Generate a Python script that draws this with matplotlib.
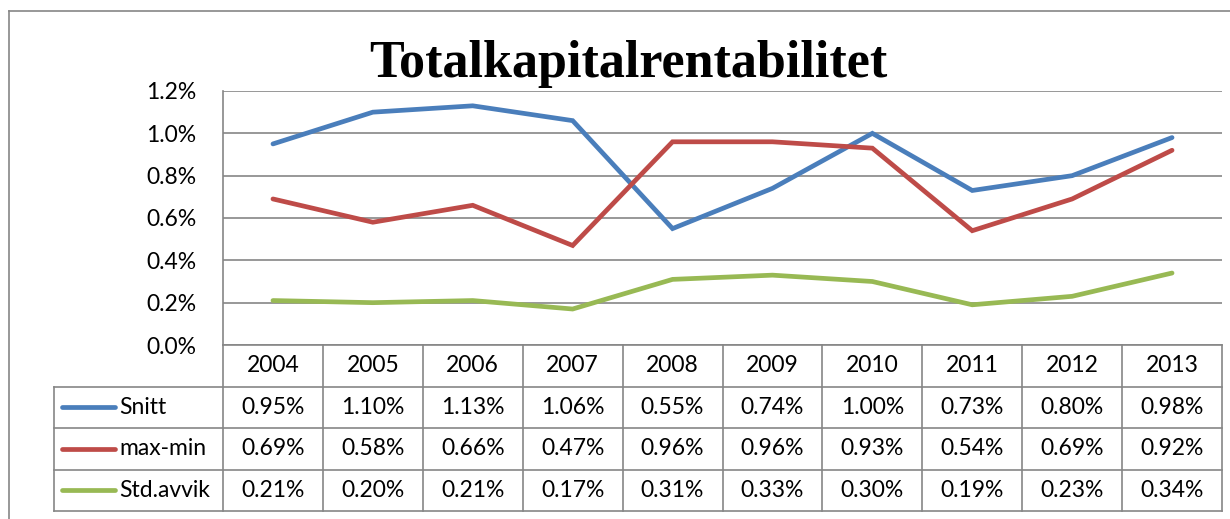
import matplotlib
matplotlib.use("Agg")
import matplotlib.pyplot as plt
from matplotlib.lines import Line2D
from matplotlib.ticker import FuncFormatter

years = ["2004", "2005", "2006", "2007", "2008", "2009", "2010", "2011", "2012", "2013"]
series_names = ["Snitt", "max-min", "Std.avvik"]
snitt = [0.95, 1.10, 1.13, 1.06, 0.55, 0.74, 1.00, 0.73, 0.80, 0.98]
maxmin = [0.69, 0.58, 0.66, 0.47, 0.96, 0.96, 0.93, 0.54, 0.69, 0.92]
stdavvik = [0.21, 0.20, 0.21, 0.17, 0.31, 0.33, 0.30, 0.19, 0.23, 0.34]
colors = ["#4A7EBB", "#BE4B48", "#98B954"]

W, H = 1230, 519
GRID = "#868686"
LBL = ["Lato", "DejaVu Sans"]
FS = 16.5

fig = plt.figure(figsize=(W / 100, H / 100), dpi=100)

def fbox(x0, y0, x1, y1):
    # pixel box (top-left origin) -> figure rect
    return [x0 / W, 1 - y1 / H, (x1 - x0) / W, (y1 - y0) / H]

# outer chart border
fig.add_artist(Line2D([9 / W, 9 / W], [0, 1 - 11 / H], color=GRID, lw=1.2))
fig.add_artist(Line2D([9 / W, 1], [1 - 11 / H, 1 - 11 / H], color=GRID, lw=1.2))

# plot area
ax = fig.add_axes(fbox(223, 91, 1222, 345))
xs = list(range(len(years)))
for vals, c in zip([snitt, maxmin, stdavvik], colors):
    ax.plot(xs, [v / 100 for v in vals], color=c, lw=3.4, solid_capstyle="round",
            solid_joinstyle="miter", zorder=3)
ax.set_xlim(-0.5, len(years) - 0.5)
ax.set_ylim(0, 0.012)
ax.set_yticks([i * 0.002 for i in range(7)])
ax.yaxis.set_major_formatter(FuncFormatter(lambda v, p: f"{v * 100:.1f}%"))
ax.grid(axis="y", color=GRID, lw=1.2)
ax.set_xticks([])
for s in ["top", "right", "bottom"]:
    ax.spines[s].set_visible(False)
ax.spines["left"].set_color(GRID)
ax.spines["left"].set_linewidth(1.2)
ax.tick_params(axis="y", length=0, pad=19)
for t in ax.get_yticklabels():
    t.set_fontfamily(LBL)
    t.set_fontsize(FS)

fig.text(628 / W, 1 - 64 / H, "Totalkapitalrentabilitet", ha="center", va="center",
         fontfamily="Liberation Serif", fontweight="bold", fontsize=37.5)

# data table
u = len(years) / (1222 - 223)  # x units per pixel
xmin = -0.5 - 169 * u
tab = fig.add_axes(fbox(54, 345, 1222, 511))
tab.set_xlim(xmin, len(years) - 0.5)
tab.set_ylim(4, 0)
tab.axis("off")
kw = dict(color=GRID, lw=1.2, clip_on=False)
tab.plot([-0.5, len(years) - 0.5], [0, 0], **kw)
for r in range(1, 5):
    tab.plot([xmin, len(years) - 0.5], [r, r], **kw)
for k in range(len(years) + 1):
    tab.plot([k - 0.5, k - 0.5], [0, 4], **kw)
tab.plot([xmin, xmin], [1, 4], **kw)

for i, y in enumerate(years):
    tab.text(i, 0.5, y, ha="center", va="center", fontfamily=LBL, fontsize=FS)
for r, (name, vals, c) in enumerate(zip(series_names, [snitt, maxmin, stdavvik], colors), start=1):
    tab.plot([xmin + 8 * u, xmin + 61 * u], [r + 0.5, r + 0.5], color=c, lw=3.4,
             solid_capstyle="round", clip_on=False)
    tab.text(xmin + 65 * u, r + 0.5, name, ha="left", va="center", fontfamily=LBL, fontsize=FS)
    for i, v in enumerate(vals):
        tab.text(i, r + 0.5, f"{v:.2f}%", ha="center", va="center", fontfamily=LBL, fontsize=FS)

fig.savefig("out.png", dpi=100)
